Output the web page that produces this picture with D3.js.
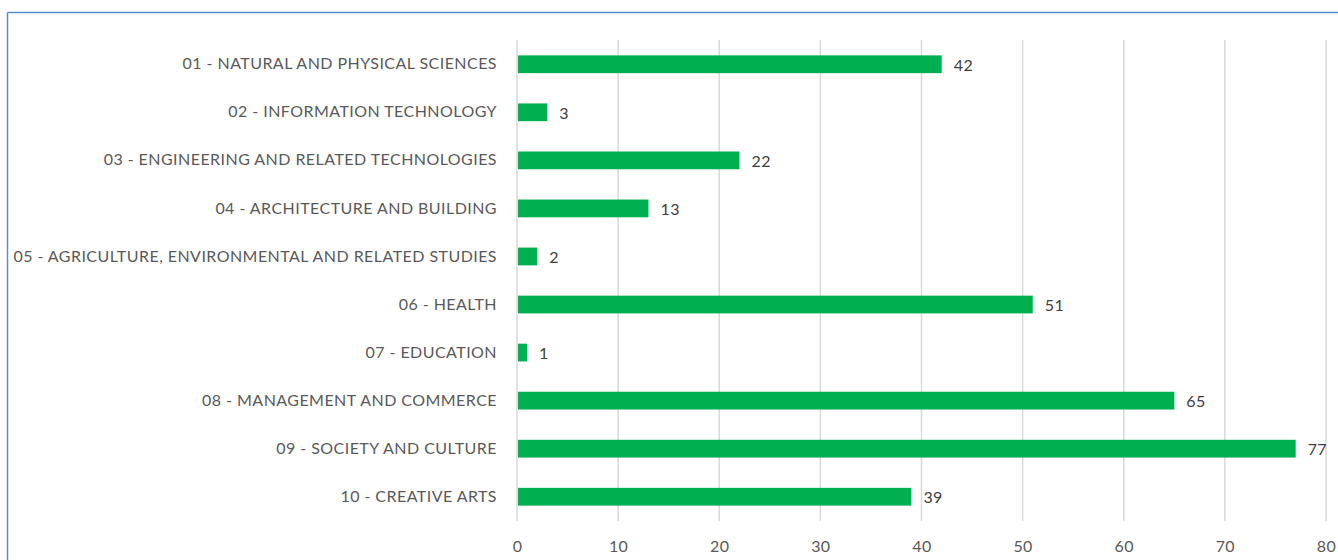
<html>
<script src="https://d3js.org/d3.v7.min.js"></script>
<style>
body { margin: 0; background: #fff; }
text { font-family: Lato, "Open Sans", sans-serif; }
</style>
<body>
<div id="chart"></div>
<script>
// categories and counts
var categories = [
  "01 - NATURAL AND PHYSICAL SCIENCES",
  "02 - INFORMATION TECHNOLOGY",
  "03 - ENGINEERING AND RELATED TECHNOLOGIES",
  "04 - ARCHITECTURE AND BUILDING",
  "05 - AGRICULTURE, ENVIRONMENTAL AND RELATED STUDIES",
  "06 - HEALTH",
  "07 - EDUCATION",
  "08 - MANAGEMENT AND COMMERCE",
  "09 - SOCIETY AND CULTURE",
  "10 - CREATIVE ARTS"
];
var counts = [42, 3, 22, 13, 2, 51, 1, 65, 77, 39];
var xTicks = [0, 10, 20, 30, 40, 50, 60, 70, 80];

var W = 1338, H = 560;
var margin = {top: 40, right: 12, bottom: 39, left: 517};

var svg = d3.select("#chart").append("svg")
    .attr("width", W)
    .attr("height", H);

// frame lines (top and left edge of the chart box)
svg.append("line")
    .attr("x1", 7.5).attr("x2", W).attr("y1", 12.5).attr("y2", 12.5)
    .attr("stroke", "#5b8ec8").attr("stroke-width", 1.5);
svg.append("line")
    .attr("x1", 7.5).attr("x2", 7.5).attr("y1", 12.5).attr("y2", H)
    .attr("stroke", "#5b8ec8").attr("stroke-width", 1.5);

var x = d3.scaleLinear()
    .domain([0, 80])
    .range([margin.left, W - margin.right]);

var y = d3.scaleBand()
    .domain(categories)
    .range([margin.top, H - margin.bottom])
    .paddingInner(0.63)
    .paddingOuter(0.32);

// vertical gridlines
svg.append("g")
  .selectAll("line")
  .data(xTicks)
  .enter().append("line")
    .attr("x1", function(d) { return x(d); })
    .attr("x2", function(d) { return x(d); })
    .attr("y1", margin.top)
    .attr("y2", H - margin.bottom)
    .attr("stroke", "#d9d9d9")
    .attr("stroke-width", 1.5);

// x axis labels
var xAxis = svg.append("g")
    .attr("transform", "translate(0," + (H - margin.bottom) + ")")
    .call(d3.axisBottom(x).tickValues(xTicks).tickSize(0).tickPadding(20));
xAxis.select(".domain").remove();
xAxis.selectAll("text")
    .style("font-family", "Lato, 'Open Sans', sans-serif")
    .style("font-size", "16px")
    .style("letter-spacing", "0.4px")
    .attr("fill", "#595959");

// category labels
var yAxis = svg.append("g")
    .attr("transform", "translate(" + (margin.left - 20) + ",0)")
    .call(d3.axisLeft(y).tickSize(0).tickPadding(0));
yAxis.select(".domain").remove();
yAxis.selectAll("text")
    .style("font-family", "Lato, 'Open Sans', sans-serif")
    .style("font-size", "16px")
    .style("letter-spacing", "0.45px")
    .attr("fill", "#595959");

// bars
svg.selectAll(".bar")
    .data(counts)
    .enter().append("rect")
    .attr("class", "bar")
    .attr("x", x(0) + 1)
    .attr("y", function(d, i) { return y(categories[i]); })
    .attr("width", function(d) { return x(d) - x(0) - 1; })
    .attr("height", y.bandwidth())
    .attr("fill", "#00b050");

// value labels
svg.selectAll(".val")
    .data(counts)
    .enter().append("text")
    .attr("class", "val")
    .attr("x", function(d) { return x(d) + 12; })
    .attr("y", function(d, i) { return y(categories[i]) + y.bandwidth() / 2 + 1; })
    .attr("dy", "0.35em")
    .style("font-size", "16px")
    .style("letter-spacing", "0.4px")
    .attr("fill", "#404040")
    .text(function(d) { return d; });
</script>
</body>
</html>
